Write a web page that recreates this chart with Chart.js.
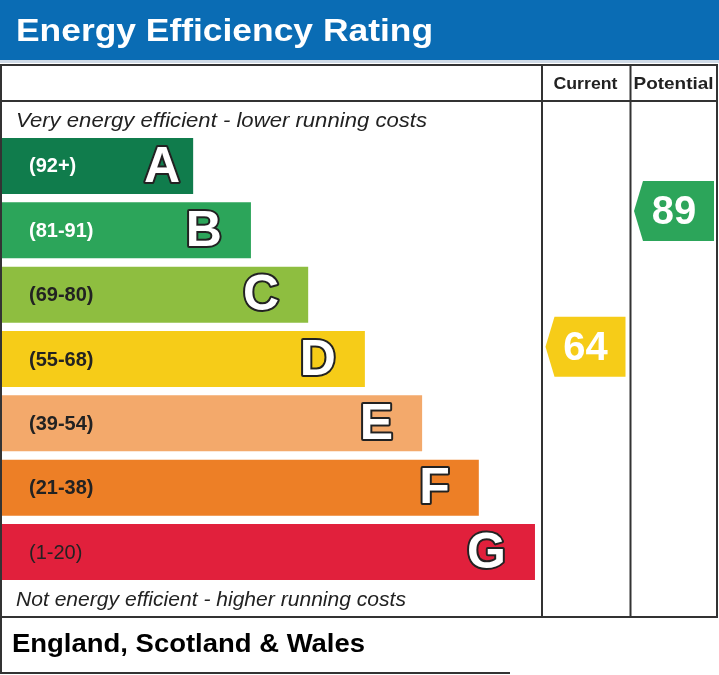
<!DOCTYPE html>
<html>
<head>
<meta charset="utf-8">
<script src="https://cdn.jsdelivr.net/npm/chart.js@4/dist/chart.umd.min.js"></script>
<style>
  html, body { margin: 0; padding: 0; background: #ffffff; }
  #wrap { position: relative; width: 719px; height: 675px; }
</style>
</head>
<body>
<div id="wrap"><canvas id="c"></canvas></div>
<script>
// ---- data ----
const categories = ['A', 'B', 'C', 'D', 'E', 'F', 'G'];
const rangeLabels = ['(92+)', '(81-91)', '(69-80)', '(55-68)', '(39-54)', '(21-38)', '(1-20)'];
const rangeMin = [92, 81, 69, 55, 39, 21, 1];
const rangeMax = [100, 91, 80, 68, 54, 38, 20];
const barLengths = [35.4, 46.1, 56.7, 67.2, 77.8, 88.3, 98.7];
const bandColors = ['#107c4c', '#2ca55a', '#8ebe40', '#f6cc18', '#f3a96b', '#ed7f26', '#e1203c'];
const columnTitles = ['Current', 'Potential'];
const ratings = [64, 89];
const titleText = 'Energy Efficiency Rating';
const topNote = 'Very energy efficient - lower running costs';
const bottomNote = 'Not energy efficient - higher running costs';
const regionText = 'England, Scotland & Wales';

const FONT = '"Liberation Sans", Arial, Helvetica, sans-serif';
const LINE = '#333333';

function fitText(ctx, text, x, y, font, color, width, align) {
  ctx.save();
  ctx.font = font;
  ctx.fillStyle = color;
  ctx.textBaseline = 'alphabetic';
  ctx.textAlign = 'left';
  const w = ctx.measureText(text).width;
  const sx = width ? width / w : 1;
  let left = x;
  if (align === 'center') left = x - (w * sx) / 2;
  ctx.translate(left, y);
  ctx.scale(sx, 1);
  ctx.fillText(text, 0, 0);
  ctx.restore();
}

function bandIndex(v) {
  for (let i = 0; i < rangeMin.length; i++) {
    if (v >= rangeMin[i] && v <= rangeMax[i]) return i;
  }
  return rangeMin.length - 1;
}

const epcPlugin = {
  id: 'epc',
  beforeDraw(chart) {
    const ctx = chart.ctx;
    ctx.save();
    ctx.fillStyle = '#ffffff';
    ctx.fillRect(0, 0, chart.width, chart.height);
    ctx.fillStyle = '#0a6cb4';
    ctx.fillRect(0, 0, chart.width, 60);
    ctx.fillStyle = '#cfdbe8';
    ctx.fillRect(0, 60, chart.width, 3);
    ctx.restore();
  },
  afterDatasetsDraw(chart) {
    const ctx = chart.ctx;
    const ys = chart.scales.y;
    const meta = chart.getDatasetMeta(0);
    ctx.save();
    // range labels and letters
    meta.data.forEach((bar, i) => {
      const yc = bar.y;
      ctx.textBaseline = 'middle';
      ctx.textAlign = 'left';
      if (i === categories.length - 1) {
        ctx.font = 'normal 20px ' + FONT;
      } else {
        ctx.font = 'bold 20px ' + FONT;
      }
      ctx.fillStyle = i < 2 ? '#ffffff' : '#222222';
      ctx.fillText(rangeLabels[i], 29, yc + 1);

      const inset = i === 0 ? 13 : 29;
      ctx.font = 'bold 50px ' + FONT;
      ctx.textAlign = 'right';
      ctx.lineJoin = 'round';
      ctx.lineWidth = 4;
      ctx.strokeStyle = '#222222';
      ctx.strokeText(categories[i], bar.x - inset, yc + 2);
      ctx.fillStyle = '#ffffff';
      ctx.fillText(categories[i], bar.x - inset, yc + 2);
    });

    // rating arrows
    const cols = [[542, 630.5], [630.5, 717]];
    const band = ys.getPixelForValue(1) - ys.getPixelForValue(0);
    ratings.forEach((v, k) => {
      const bi = bandIndex(v);
      const frac = (v - rangeMin[bi]) / (rangeMax[bi] - rangeMin[bi]);
      const yc = ys.getPixelForValue(bi) - (frac - 0.5) * band;
      const tip = cols[k][0] + 3.5;
      const right = tip + 80;
      const half = 30;
      ctx.beginPath();
      ctx.moveTo(tip, yc);
      ctx.lineTo(tip + 9, yc - half);
      ctx.lineTo(right, yc - half);
      ctx.lineTo(right, yc + half);
      ctx.lineTo(tip + 9, yc + half);
      ctx.closePath();
      ctx.fillStyle = bandColors[bi];
      ctx.fill();
      ctx.font = 'bold 40px ' + FONT;
      ctx.fillStyle = '#ffffff';
      ctx.textAlign = 'center';
      ctx.textBaseline = 'middle';
      ctx.fillText(String(v), (tip + right) / 2, yc + 2);
    });
    ctx.restore();
  },
  afterDraw(chart) {
    const ctx = chart.ctx;
    ctx.save();
    ctx.strokeStyle = LINE;
    ctx.lineWidth = 2;
    ctx.beginPath();
    ctx.rect(1, 65, 716, 552);
    ctx.moveTo(1, 101); ctx.lineTo(717, 101);
    ctx.moveTo(542, 65); ctx.lineTo(542, 617);
    ctx.moveTo(630.5, 65); ctx.lineTo(630.5, 617);
    ctx.moveTo(1, 617); ctx.lineTo(1, 673);
    ctx.moveTo(0, 673); ctx.lineTo(510, 673);
    ctx.stroke();
    ctx.restore();

    fitText(ctx, titleText, 16, 41, 'bold 32px ' + FONT, '#ffffff', 417);
    fitText(ctx, columnTitles[0], 585.5, 89, 'bold 17px ' + FONT, '#222222', 64, 'center');
    fitText(ctx, columnTitles[1], 673.5, 89, 'bold 17px ' + FONT, '#222222', 80, 'center');
    fitText(ctx, topNote, 16, 127, 'italic 21px ' + FONT, '#222222', 411);
    fitText(ctx, bottomNote, 16, 606, 'italic 20px ' + FONT, '#222222', 390);
    fitText(ctx, regionText, 12, 652, 'bold 25px ' + FONT, '#000000', 353);
  }
};

new Chart(document.getElementById('c'), {
  type: 'bar',
  data: {
    labels: categories,
    datasets: [{
      data: barLengths,
      backgroundColor: bandColors,
      borderWidth: 0,
      barPercentage: 0.87,
      categoryPercentage: 1.0
    }]
  },
  options: {
    indexAxis: 'y',
    responsive: true,
    maintainAspectRatio: false,
    animation: false,
    devicePixelRatio: 1,
    layout: { padding: { left: 2, right: 177, top: 133.8, bottom: 90.8 } },
    plugins: { legend: { display: false }, tooltip: { enabled: false }, title: { display: false } },
    events: [],
    scales: {
      x: { display: false, min: 0, max: 100 },
      y: { display: false }
    }
  },
  plugins: [epcPlugin]
});
</script>
</body>
</html>
